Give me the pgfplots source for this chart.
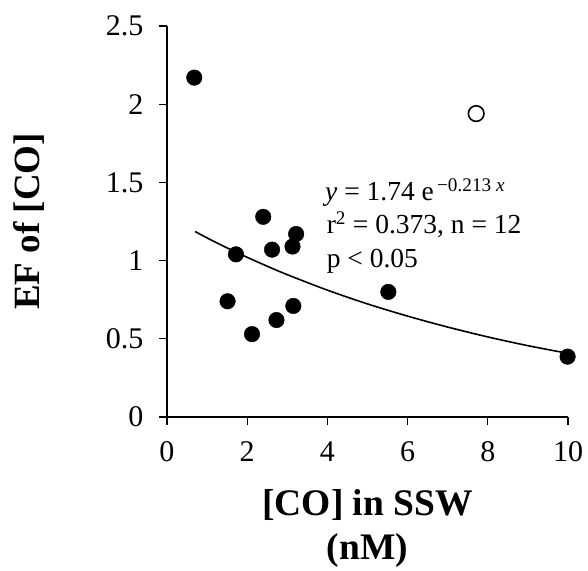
\documentclass[border=0pt]{standalone}
\usepackage{pgfplots}
\pgfplotsset{compat=1.18}
\usepackage{fontspec}
\setmainfont{Liberation Serif}
\begin{document}
\begin{tikzpicture}
\begin{axis}[
  scale only axis,
  width=401pt, height=391pt,
  xmin=0, xmax=10, ymin=0, ymax=2.5,
  axis x line*=bottom,
  axis y line*=left,
  axis line style={line width=1.2pt},
  every tick/.style={black, line width=1.2pt},
  xtick pos=bottom, ytick pos=left,
  tick align=outside,
  major tick length=8pt,
  xtick={0,2,4,6,8,10},
  ytick={0,0.5,1,1.5,2,2.5},
  /pgf/number format/assume math mode=true,
  yticklabels={0,0.5,1,1.5,2,2.5},
  xticklabels={0,2,4,6,8,10},
  xticklabel style={font=\fontsize{30}{34}\selectfont, yshift=-13pt},
  yticklabel style={font=\fontsize{30}{34}\selectfont, xshift=-12pt},
  xlabel={[CO] in SSW\\(nM)},
  xlabel style={font=\bfseries\fontsize{37.5}{44}\selectfont, align=center, at={(axis description cs:0.5,0)}, anchor=center, yshift=-111pt},
  ylabel={EF of [CO]},
  ylabel style={font=\bfseries\fontsize{37}{42}\selectfont, at={(axis description cs:-0.345,0.5)}, anchor=center},
  clip=false,
]
\addplot[black, line width=1.6pt, smooth] coordinates {
(0.7,1.186) (1,1.145) (1.5,1.081) (2,1.021) (2.5,0.964) (3,0.910) (4,0.811) (5,0.723) (6,0.645) (7,0.575) (8,0.512) (9,0.456) (10,0.407)
};
\addplot[only marks, mark=*, mark size=7.8pt, black] coordinates {
(0.68,2.17) (1.72,1.04) (1.51,0.74) (2.12,0.53) (2.40,1.28) (2.62,1.07) (2.73,0.62) (3.13,1.09) (3.22,1.17) (3.15,0.71) (5.52,0.80) (9.99,0.386)
};
\addplot[only marks, mark=o, mark size=7.8pt, black, mark options={line width=1.6pt, fill=white}] coordinates {
(7.71,1.94)
};
\node[anchor=base west, inner sep=0pt, font=\fontsize{27.5}{33}\selectfont] at (axis cs:3.94,1.387)
  {\textit{y} = 1.74 e\textsuperscript{\,−0.213 \textit{x}}};
\node[anchor=base west, inner sep=0pt, font=\fontsize{27.5}{33}\selectfont] at (axis cs:3.98,1.176)
  {r\textsuperscript{2} = 0.373, n = 12};
\node[anchor=base west, inner sep=0pt, font=\fontsize{27.5}{33}\selectfont] at (axis cs:3.98,0.959)
  {p < 0.05};
\end{axis}
\path (current axis.south west) ++(-167pt,-149pt);
\path (current axis.north east) ++(20pt,26pt);
\end{tikzpicture}
\end{document}
